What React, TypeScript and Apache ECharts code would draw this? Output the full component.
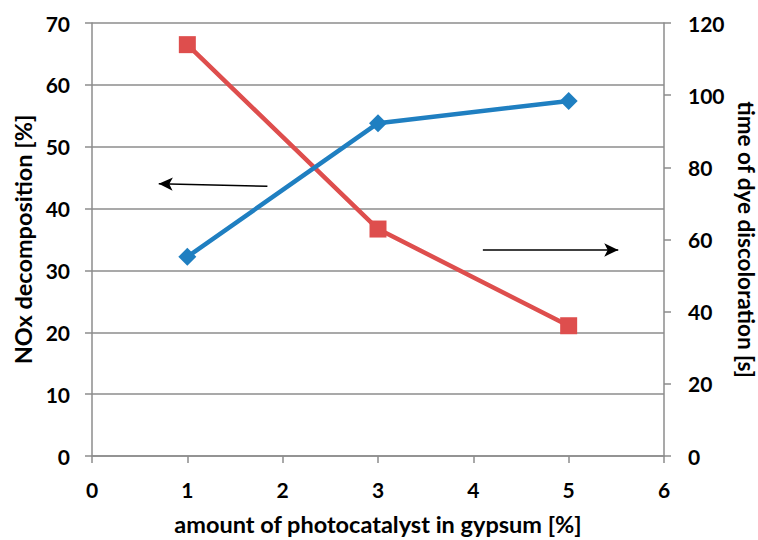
import React, { useEffect, useRef } from "react";
import * as echarts from "echarts";

const photocatalystAmount = [1, 3, 5];
const noxDecomposition = [32.2, 53.8, 57.4];
const dyeDiscolorationTime = [114, 62.9, 36.1];

const xTitle = "amount of photocatalyst in gypsum [%]";
const leftTitle = "NOx decomposition [%]";
const rightTitle = "time of dye discoloration [s]";

// annotation arrows (data coordinates)
const leftArrow = { from: [1.84, 43.6], to: [0.7, 44.0] };
const rightArrow = { from: [4.1, 57.1], to: [5.52, 57.1] };

const FONT = "Lato";
const GRID = "#8c8c8c";

export default function App() {
  const ref = useRef<HTMLDivElement>(null);
  useEffect(() => {
    const chart = echarts.init(ref.current!, null, { renderer: "svg" });
    const labelStyle = {
      fontFamily: FONT,
      fontWeight: "bold" as const,
      fontSize: 21,
      color: "#000",
    };
    const nameStyle = {
      fontFamily: FONT,
      fontWeight: "bold" as const,
      fontSize: 23.5,
      color: "#000",
    };
    chart.setOption({
      animation: false,
      backgroundColor: "#fff",
      grid: { left: 92, right: 94, top: 23, bottom: 84, outerBoundsMode: "none", containLabel: false },
      xAxis: {
        type: "value",
        min: 0,
        max: 6,
        interval: 1,
        name: xTitle,
        nameLocation: "middle",
        nameGap: 56,
        nameTextStyle: nameStyle,
        axisLine: { show: true, lineStyle: { color: GRID, width: 1.5 } },
        axisTick: { show: true, length: 7, lineStyle: { color: GRID, width: 1.5 } },
        axisLabel: { ...labelStyle, margin: 23 },
        splitLine: { show: false },
      },
      yAxis: [
        {
          type: "value",
          min: 0,
          max: 70,
          interval: 10,
          position: "left",
          name: leftTitle,
          nameLocation: "middle",
          nameGap: 57,
          nameTextStyle: nameStyle,
          axisLine: { show: true, lineStyle: { color: GRID, width: 1.5 } },
          axisTick: { show: true, length: 7, lineStyle: { color: GRID, width: 1.5 } },
          axisLabel: { ...labelStyle, margin: 22 },
          splitLine: { show: true, lineStyle: { color: GRID, width: 1.5 } },
        },
        {
          type: "value",
          min: 0,
          max: 120,
          interval: 20,
          position: "right",
          name: rightTitle,
          nameLocation: "middle",
          nameGap: 67,
          nameRotate: -90,
          nameTextStyle: { ...nameStyle, fontSize: 22.5, lineHeight: 22 },
          axisLine: { show: true, lineStyle: { color: GRID, width: 1.5 } },
          axisTick: { show: true, length: 7, lineStyle: { color: GRID, width: 1.5 } },
          axisLabel: { ...labelStyle, margin: 24 },
          splitLine: { show: false },
        },
      ],
      series: [
        {
          type: "line",
          yAxisIndex: 0,
          data: photocatalystAmount.map((x, i) => [x, noxDecomposition[i]]),
          symbol: "diamond",
          symbolSize: 18,
          lineStyle: { color: "#1f7fc1", width: 4.5 },
          itemStyle: { color: "#1f7fc1" },
          z: 3,
          markLine: {
            silent: true,
            symbol: ["none", "arrow"],
            symbolSize: [10, 14],
            label: { show: false },
            lineStyle: { color: "#000", width: 1.5, type: "solid" },
            data: [[{ coord: leftArrow.from }, { coord: leftArrow.to }]],
          },
        },
        {
          type: "line",
          yAxisIndex: 1,
          data: photocatalystAmount.map((x, i) => [x, dyeDiscolorationTime[i]]),
          symbol: "rect",
          symbolSize: 17,
          lineStyle: { color: "#de4e4d", width: 4.5 },
          itemStyle: { color: "#de4e4d" },
          z: 2,
          markLine: {
            silent: true,
            symbol: ["none", "arrow"],
            symbolSize: [10, 14],
            label: { show: false },
            lineStyle: { color: "#000", width: 1.5, type: "solid" },
            data: [[{ coord: rightArrow.from }, { coord: rightArrow.to }]],
          },
        },
      ],
    });
    return () => chart.dispose();
  }, []);
  return <div ref={ref} style={{ width: 758, height: 540, position: "fixed", left: 0, top: 0 }} />;
}
